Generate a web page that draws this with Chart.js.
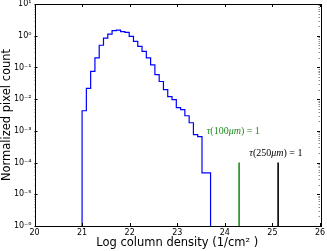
<!DOCTYPE html>
<html>
<head>
<meta charset="utf-8">
<style>
  html, body { margin: 0; padding: 0; background: #fff; }
  #wrap { width: 327px; height: 251px; position: relative; }
</style>
<script src="https://cdn.jsdelivr.net/npm/chart.js@4.4.1/dist/chart.umd.min.js"></script>
</head>
<body>
<div id="wrap"><canvas id="myChart"></canvas></div>
<script>
// histogram bins (log column density), left edges plus the closing edge
const binEdges = [21.00, 21.09, 21.18, 21.27, 21.36, 21.45, 21.54, 21.63, 21.72, 21.81,
                  21.90, 21.99, 22.08, 22.17, 22.26, 22.35, 22.44, 22.53, 22.62, 22.71,
                  22.80, 22.89, 22.98, 23.07, 23.16, 23.25, 23.34, 23.43, 23.52, 23.61, 23.70];
const pixelCounts = [4.3e-3, 0.022, 0.075, 0.2, 0.5, 0.84, 1.12, 1.44, 1.51, 1.34,
                     1.27, 0.95, 0.66, 0.46, 0.32, 0.2, 0.12, 0.059, 0.036, 0.02,
                     0.012, 0.0097, 0.0054, 0.0047, 0.003, 0.0018, 7.6e-4, 6.6e-4, 4.7e-5, 4.7e-5];

const xTicks = [20, 21, 22, 23, 24, 25, 26];
const yTicks = [1e-6, 1e-5, 1e-4, 1e-3, 1e-2, 1e-1, 1, 10];
const yTickLabels = ["10⁻⁶", "10⁻⁵", "10⁻⁴", "10⁻³", "10⁻²", "10⁻¹", "10⁰", "10¹"];
const yFloor = 1e-6;

// optical depth = 1 markers
const tauPositions = [24.3, 25.12];
const tauTop = 1e-4;
const tauNames = ["100", "250"];
const tauColors = ["#1f8c1f", "#000000"];
const tauLabelX = [23.62, 24.515];
const tauLabelY = [9.3e-4, 1.9e-4];

const histPoints = [{ x: binEdges[0], y: yFloor }];
pixelCounts.forEach((v, i) => histPoints.push({ x: binEdges[i], y: v }));
histPoints.push({ x: binEdges[binEdges.length - 1], y: yFloor });

const datasets = [{
  data: histPoints,
  borderColor: "#0000ff",
  borderWidth: 1.2,
  stepped: true,
  pointRadius: 0,
  fill: false,
}];
tauPositions.forEach((p, i) => datasets.push({
  data: [{ x: p, y: yFloor }, { x: p, y: tauTop }],
  borderColor: tauColors[i],
  borderWidth: 1.6,
  pointRadius: 0,
}));

const frameTicks = {
  id: "frameTicks",
  afterDraw(chart) {
    const { ctx, chartArea: a, scales: { x, y } } = chart;
    ctx.save();
    ctx.strokeStyle = "#000";
    ctx.lineWidth = 1;
    ctx.beginPath();
    xTicks.forEach(v => {
      const px = Math.round(x.getPixelForValue(v)) + 0.5;
      ctx.moveTo(px, a.bottom); ctx.lineTo(px, a.bottom - 3);
      ctx.moveTo(px, a.top); ctx.lineTo(px, a.top + 3);
    });
    yTicks.forEach(v => {
      const py = Math.round(y.getPixelForValue(v)) + 0.5;
      ctx.moveTo(a.left, py); ctx.lineTo(a.left + 3, py);
      ctx.moveTo(a.right, py); ctx.lineTo(a.right - 3, py);
    });
    ctx.stroke();
    ctx.strokeStyle = "#888";
    ctx.beginPath();
    yTicks.slice(0, -1).forEach(d => {
      for (let m = 2; m < 10; m++) {
        const py = Math.round(y.getPixelForValue(d * m)) + 0.5;
        ctx.moveTo(a.left, py); ctx.lineTo(a.left + 1.5, py);
        ctx.moveTo(a.right, py); ctx.lineTo(a.right - 1.5, py);
      }
    });
    ctx.stroke();
    ctx.strokeStyle = "#000";
    ctx.strokeRect(Math.round(a.left) + 0.5, Math.round(a.top) + 0.5,
                   Math.round(a.right - a.left), Math.round(a.bottom - a.top));

    // tau labels, math-style: greek + units italic, digits upright
    tauNames.forEach((n, i) => {
      const parts = [["τ", true], ["(" + n, false], ["μm", true], [") = 1", false]];
      let tx = x.getPixelForValue(tauLabelX[i]);
      const ty = y.getPixelForValue(tauLabelY[i]);
      ctx.fillStyle = tauColors[i];
      ctx.textBaseline = "middle";
      parts.forEach(([t, it]) => {
        ctx.font = (it ? "italic " : "") + "10px 'Liberation Serif'";
        ctx.fillText(t, tx, ty);
        tx += ctx.measureText(t).width;
      });
    });
    ctx.restore();
  }
};

new Chart(document.getElementById("myChart"), {
  type: "line",
  data: { datasets: datasets },
  options: {
    responsive: true,
    maintainAspectRatio: false,
    animation: false,
    events: [],
    layout: { padding: { top: 4, right: 7, left: 0, bottom: 0 } },
    plugins: { legend: { display: false }, tooltip: { enabled: false } },
    scales: {
      x: {
        type: "linear",
        min: 20, max: 26,
        grid: { display: false, drawTicks: false },
        border: { display: false },
        afterBuildTicks: s => { s.ticks = xTicks.map(v => ({ value: v })); },
        afterFit: s => { s.height = 25; s.paddingLeft = 0; s.paddingRight = 0; },
        ticks: { color: "#000", font: { family: "DejaVu Sans", size: 8 }, padding: 2, maxRotation: 0 },
        title: {
          display: true,
          text: "Log column density (1/cm² )",
          color: "#000",
          font: { family: "DejaVu Sans", size: 11.5 },
          padding: { top: 0, bottom: 1.5 },
        },
      },
      y: {
        type: "logarithmic",
        min: yFloor, max: 10,
        grid: { display: false, drawTicks: false },
        border: { display: false },
        afterBuildTicks: s => { s.ticks = yTicks.map(v => ({ value: v })); },
        afterFit: s => { s.width = 34.5; s.paddingTop = 0; s.paddingBottom = 0; },
        ticks: {
          color: "#000",
          font: { family: "DejaVu Sans", size: 8 },
          padding: 3,
          callback: v => yTickLabels[yTicks.indexOf(v)],
        },
        title: {
          display: true,
          text: "Normalized pixel count",
          color: "#000",
          font: { family: "DejaVu Sans", size: 11.5 },
          padding: { top: 0, bottom: 0 },
        },
      },
    },
  },
  plugins: [frameTicks],
});
</script>
</body>
</html>
